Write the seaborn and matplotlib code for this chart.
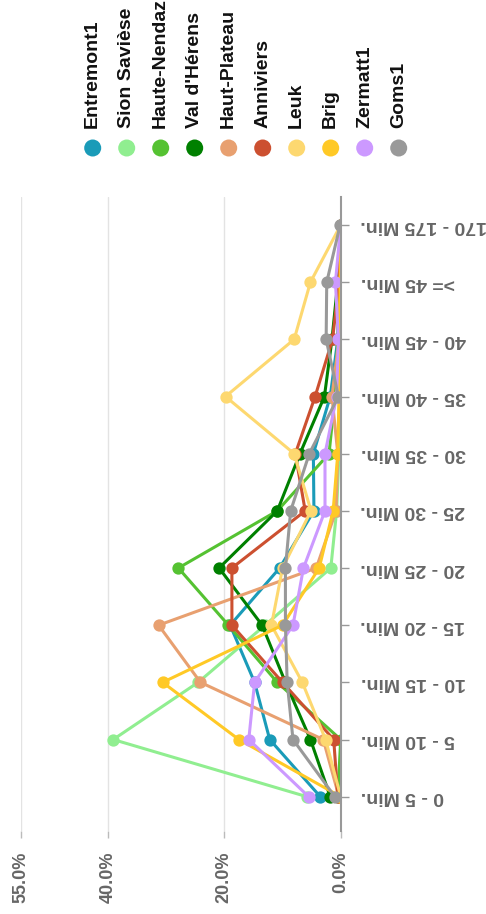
import matplotlib
matplotlib.use("Agg")
import matplotlib.pyplot as plt
import seaborn as sns
import pandas as pd

categories = ["0 - 5 Min.", "5 - 10 Min.", "10 - 15 Min.", "15 - 20 Min.", "20 - 25 Min.",
              "25 - 30 Min.", "30 - 35 Min.", "35 - 40 Min.", "40 - 45 Min.", ">= 45 Min.",
              "170 - 175 Min."]

regions = ["Entremont1", "Sion Savièse", "Haute-Nendaz", "Val d'Hérens", "Haut-Plateau",
           "Anniviers", "Leuk", "Brig", "Zermatt1", "Goms1"]

colors = ["#1a9bb8", "#90ee90", "#55c232", "#008000", "#e8a070",
          "#cc5030", "#fdd870", "#ffc926", "#cc99ff", "#999999"]

entremont1 = [3.5, 12.2, 14.8, 19.0, 10.5, 4.6, 4.7, 1.8, 0.5, 0.3, 0.0]
sion_saviese = [5.8, 39.1, 24.5, 13.0, 1.7, 0.7, 0.3, 0.2, 0.1, 0.1, 0.0]
haute_nendaz = [0.5, 0.0, 10.9, 19.3, 27.9, 10.9, 2.0, 1.0, 0.5, 0.3, 0.0]
val_dherens = [1.8, 5.2, 9.5, 13.5, 20.9, 10.9, 7.0, 2.8, 1.5, 0.5, 0.0]
haut_plateau = [0.3, 3.0, 24.1, 31.3, 4.2, 0.8, 0.5, 1.5, 0.3, 0.1, 0.0]
anniviers = [0.5, 1.2, 10.0, 18.7, 18.7, 6.1, 7.8, 4.4, 1.4, 0.3, 0.0]
leuk = [0.0, 2.6, 6.6, 11.9, 10.0, 5.1, 8.0, 19.8, 8.0, 5.2, 0.0]
brig = [0.0, 17.5, 30.6, 10.0, 3.7, 1.3, 0.5, 0.3, 0.2, 0.1, 0.0]
zermatt1 = [5.5, 15.8, 14.8, 8.2, 6.4, 2.7, 2.7, 0.7, 0.4, 0.9, 0.0]
goms1 = [1.0, 8.2, 9.2, 9.5, 9.5, 8.6, 5.4, 0.4, 2.5, 2.4, 0.1]

value_ticks = [0, 20, 40, 55]
value_tick_labels = ["0.0%", "20.0%", "40.0%", "55.0%"]

series = [entremont1, sion_saviese, haute_nendaz, val_dherens, haut_plateau,
          anniviers, leuk, brig, zermatt1, goms1]

rows = []
for name, vals in zip(regions, series):
    for cat, v in zip(categories, vals):
        rows.append({"region": name, "category": cat, "value": v})
df = pd.DataFrame(rows)

sns.set_style("white")
plt.rcParams["font.family"] = ["Liberation Sans", "DejaVu Sans"]

W, H = 486, 914
fig = plt.figure(figsize=(W / 100, H / 100), dpi=100)
x0, x1, ytop, ybot = 20.7, 340.7, 197, 831
ax = fig.add_axes([x0 / W, 1 - ybot / H, (x1 - x0) / W, (ybot - ytop) / H])

sns.pointplot(data=df, x="value", y="category", hue="region", order=categories,
              hue_order=regions, palette=colors, orient="h", errorbar=None,
              markers="o", markersize=7.2, linewidth=2.2, legend=False, ax=ax)

ax.set_xlim(55, 0)
ax.set_ylim(-0.6, 10.49)
for s in ["top", "left", "bottom"]:
    ax.spines[s].set_visible(False)
ax.spines["right"].set_visible(True)
ax.spines["right"].set_color("#999999")
ax.spines["right"].set_linewidth(1.5)

ax.grid(axis="x", color="#e3e3e3", linewidth=1)
ax.grid(axis="y", visible=False)
ax.set_axisbelow(True)

ax.set_xticks(value_ticks)
ax.set_xticklabels(value_tick_labels)
ax.tick_params(axis="x", bottom=True, length=5, width=1, color="#bbbbbb", pad=10,
               labelsize=13, labelcolor="#666666", labelrotation=90)
for t in ax.get_xticklabels():
    t.set_fontweight("bold")

ax.yaxis.tick_right()
ax.set_yticks(range(len(categories)))
ax.set_yticklabels(categories)
ax.tick_params(axis="y", right=True, left=False, length=5.8, width=1, color="#999999",
               pad=8.5, labelsize=14, labelcolor="#666666", labelrotation=180)
for t in ax.get_yticklabels():
    t.set_fontweight("bold")
    t.set_horizontalalignment("left")
    t.set_verticalalignment("center")
ax.set_xlabel("")
ax.set_ylabel("")

# legend (rotated)
lax = fig.add_axes([0, 0, 1, 1], facecolor="none")
lax.set_xlim(0, W)
lax.set_ylim(H, 0)
lax.axis("off")
for i, (name, c) in enumerate(zip(regions, colors)):
    lx = 92.7 + 34 * i
    lax.scatter([lx], [148], s=150, color=c, edgecolors="none")
    lax.text(lx, 128, name, rotation=90, ha="center", va="bottom", fontsize=14,
             fontweight="bold", color="#111111")

fig.savefig("out.png", dpi=100)
